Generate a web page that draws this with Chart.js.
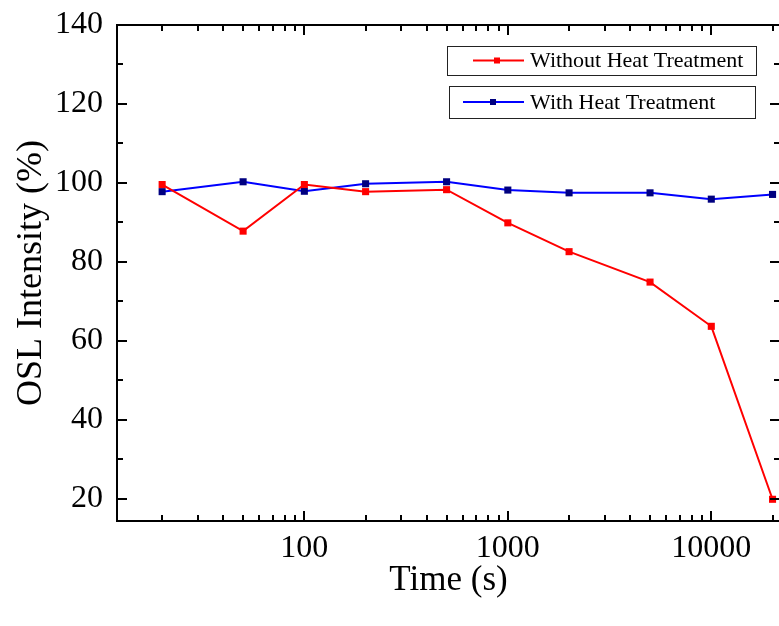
<!DOCTYPE html>
<html>
<head>
<meta charset="utf-8">
<title>OSL Intensity vs Time</title>
<script src="https://cdn.jsdelivr.net/npm/chart.js@4.4.1/dist/chart.umd.min.js"></script>
<style>
  html, body { margin: 0; padding: 0; overflow: hidden; background: #fff; }
  #wrap { width: 785px; height: 626px; }
</style>
</head>
<body>
<div id="wrap"><canvas id="OslChart"></canvas></div>
<script>
(function () {
  "use strict";

  // Data
  const times       = [20, 50, 100, 200, 500, 1000, 2000, 5000, 10000, 20000];
  const withoutHeat = [99.6, 87.8, 99.6, 97.8, 98.3, 89.9, 82.6, 74.9, 63.7, 19.9];
  const withHeat    = [97.8, 100.3, 97.9, 99.8, 100.3, 98.2, 97.5, 97.5, 95.9, 97.1];

  const seriesLabels = ['Without Heat Treatment', 'With Heat Treatment'];

  // Axis ticks
  const xMajorTicks = [100, 1000, 10000];
  const xMinorTicks = [20, 30, 40, 50, 60, 70, 80, 90,
                       200, 300, 400, 500, 600, 700, 800, 900,
                       2000, 3000, 4000, 5000, 6000, 7000, 8000, 9000, 20000];
  const yMajorTicks = [20, 40, 60, 80, 100, 120, 140];
  const yMinorTicks = [30, 50, 70, 90, 110, 130];

  // Colors
  const red_line   = '#FF0000';
  const blue_line  = '#0000FF';
  const navy_point = '#000080';

  const serif = "'Liberation Serif', 'Times New Roman', serif";

  // frame + inward ticks on all four sides
  const frameTicks = {
    id: 'frameTicks',
    afterDatasetsDraw(chart) {
      const ctx = chart.ctx;
      const a = chart.chartArea;
      const x = chart.scales.x;
      const y = chart.scales.y;
      ctx.save();
      ctx.strokeStyle = '#000';
      ctx.lineWidth = 2;
      ctx.strokeRect(a.left, a.top, a.right - a.left, a.bottom - a.top);
      ctx.beginPath();
      const xTick = function (v, len) {
        const px = Math.round(x.getPixelForValue(v));
        ctx.moveTo(px, a.bottom); ctx.lineTo(px, a.bottom - len);
        ctx.moveTo(px, a.top);    ctx.lineTo(px, a.top + len);
      };
      const yTick = function (v, len) {
        const py = Math.round(y.getPixelForValue(v));
        ctx.moveTo(a.left, py);  ctx.lineTo(a.left + len, py);
        ctx.moveTo(a.right, py); ctx.lineTo(a.right - len, py);
      };
      xMajorTicks.forEach(v => xTick(v, 10));
      xMinorTicks.forEach(v => xTick(v, 6));
      yMajorTicks.forEach(v => yTick(v, 10));
      yMinorTicks.forEach(v => yTick(v, 6));
      ctx.stroke();
      ctx.restore();
    }
  };

  // two separate boxed legend entries, top right
  const boxLegend = {
    id: 'boxLegend',
    afterDraw(chart) {
      const ctx = chart.ctx;
      const a = chart.chartArea;
      const boxes = [
        { left: a.left + 330, top: a.top + 21, width: 309, height: 29, lineFrom: 356, lineTo: 407, mark: 380 },
        { left: a.left + 332, top: a.top + 61, width: 306, height: 32, lineFrom: 346, lineTo: 407, mark: 376 }
      ];
      ctx.save();
      chart.data.datasets.forEach(function (ds, i) {
        const b = boxes[i];
        const cy = b.top + b.height / 2;
        ctx.fillStyle = '#fff';
        ctx.fillRect(b.left, b.top, b.width, b.height);
        ctx.strokeStyle = '#222';
        ctx.lineWidth = 1;
        ctx.strokeRect(b.left + 0.5, b.top + 0.5, b.width, b.height);
        ctx.strokeStyle = ds.borderColor;
        ctx.lineWidth = 2;
        ctx.beginPath();
        ctx.moveTo(a.left + b.lineFrom, cy);
        ctx.lineTo(a.left + b.lineTo, cy);
        ctx.stroke();
        ctx.fillStyle = ds.pointBackgroundColor;
        ctx.fillRect(a.left + b.mark - 3, cy - 3, 6, 6);
        ctx.fillStyle = '#000';
        ctx.font = '22px ' + serif;
        ctx.textBaseline = 'middle';
        ctx.textAlign = 'left';
        ctx.fillText(ds.label, a.left + 413, cy + 1);
      });
      ctx.restore();
    }
  };

  const ctx = document.getElementById('OslChart').getContext('2d');

  new Chart(ctx, {
    type: 'line',
    data: {
      datasets: [{
        label: seriesLabels[0],
        data: times.map((t, i) => ({ x: t, y: withoutHeat[i] })),
        borderColor: red_line,
        backgroundColor: red_line,
        borderWidth: 2,
        pointStyle: 'rect',
        pointRadius: 5,
        pointBorderWidth: 0,
        pointBackgroundColor: red_line,
        tension: 0
      },
      {
        label: seriesLabels[1],
        data: times.map((t, i) => ({ x: t, y: withHeat[i] })),
        borderColor: blue_line,
        backgroundColor: blue_line,
        borderWidth: 2,
        pointStyle: 'rect',
        pointRadius: 5,
        pointBorderWidth: 0,
        pointBackgroundColor: navy_point,
        tension: 0
      }]
    },
    options: {
      responsive: true,
      maintainAspectRatio: false,
      animation: false,
      layout: {
        padding: { left: 0, top: 25, right: 2, bottom: 0 }
      },
      plugins: {
        legend: { display: false },
        tooltip: { enabled: false }
      },
      scales: {
        x: {
          type: 'logarithmic',
          min: 12,
          max: 21760,
          grid: { display: false, drawTicks: false },
          border: { display: false },
          afterBuildTicks: function (scale) {
            scale.ticks = xMajorTicks.map(v => ({ value: v, major: true }));
          },
          afterFit: function (scale) {
            scale.height = 105;
            scale.paddingLeft = 0;
            scale.paddingRight = 0;
          },
          ticks: {
            color: '#000',
            padding: 8,
            maxRotation: 0,
            autoSkip: false,
            font: { family: serif, size: 32 },
            callback: function (v) { return String(v); }
          },
          title: {
            display: true,
            text: 'Time (s)',
            color: '#000',
            font: { family: serif, size: 35 },
            padding: { top: 0, bottom: 24 }
          }
        },
        y: {
          min: 14.4,
          max: 140,
          grid: { display: false, drawTicks: false },
          border: { display: false },
          afterBuildTicks: function (scale) {
            scale.ticks = yMajorTicks.map(v => ({ value: v }));
          },
          afterFit: function (scale) {
            scale.width = 117;
            scale.paddingTop = 0;
            scale.paddingBottom = 0;
          },
          ticks: {
            color: '#000',
            padding: 14,
            font: { family: serif, size: 32 }
          },
          title: {
            display: true,
            text: 'OSL Intensity (%)',
            color: '#000',
            font: { family: serif, size: 36 },
            padding: { top: 10, bottom: 0 }
          }
        }
      }
    },
    plugins: [frameTicks, boxLegend]
  });
})();
</script>
</body>
</html>
